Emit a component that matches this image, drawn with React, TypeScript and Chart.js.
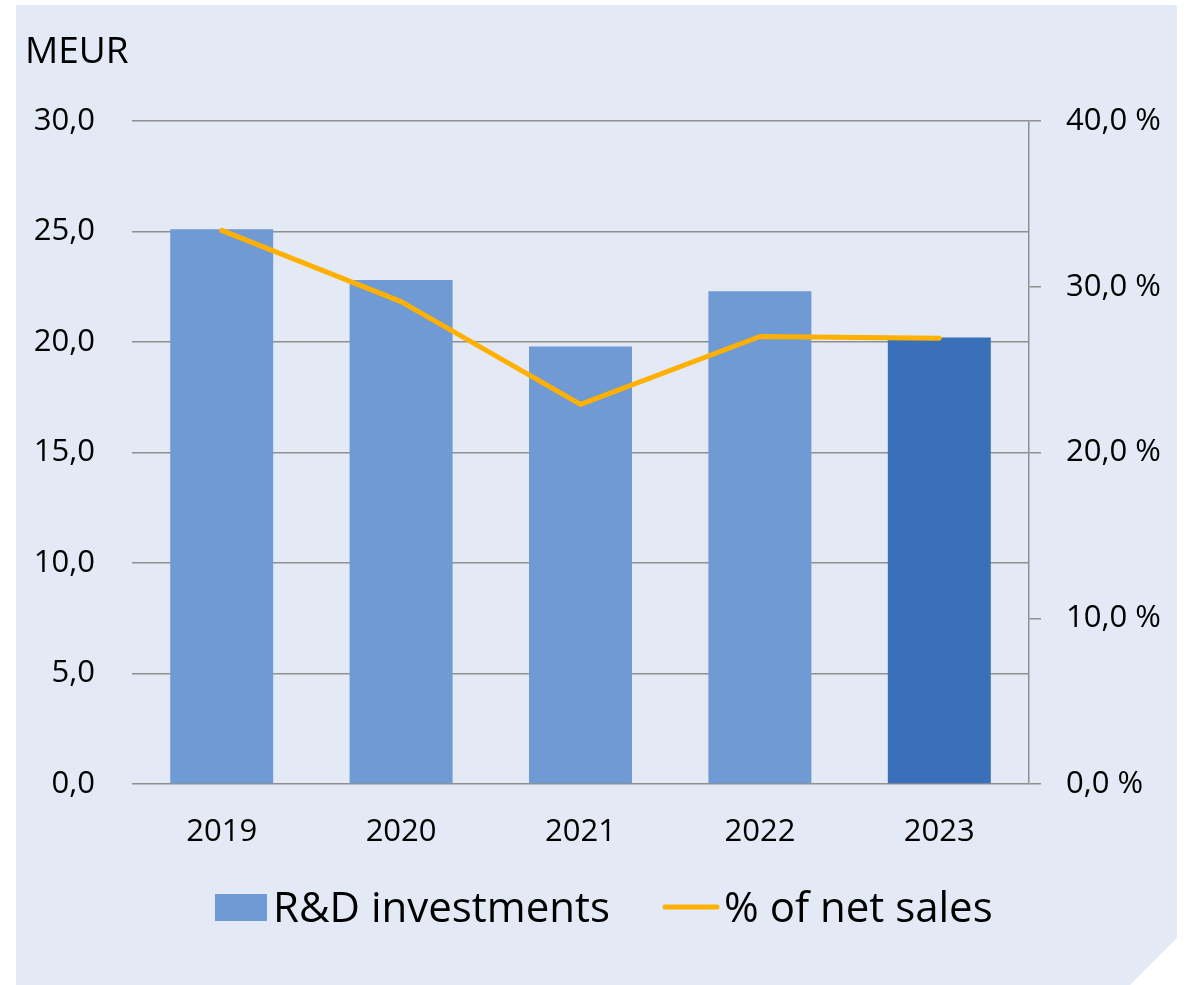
import React, { useEffect, useRef } from "react";
import { Chart, registerables } from "chart.js";

Chart.register(...registerables);

const years = ["2019", "2020", "2021", "2022", "2023"];
const rdInvestments = [25.1, 22.8, 19.8, 22.3, 20.2];
const pctOfNetSales = [33.4, 29.1, 22.9, 27.0, 26.9];
const barColors = ["#6F9AD3", "#6F9AD3", "#6F9AD3", "#6F9AD3", "#3A70B9"];
const seriesNames = ["R&D investments", "% of net sales"];
const unitLabel = "MEUR";

const FONT = "'Open Sans', 'Noto Sans', sans-serif";
const fmt = (v: number) => v.toFixed(1).replace(".", ",");

const decorPlugin = {
  id: "decor",
  beforeDraw(chart: any) {
    const ctx = chart.ctx;
    ctx.save();
    ctx.fillStyle = "#E3EAF5";
    ctx.beginPath();
    ctx.moveTo(16, 5);
    ctx.lineTo(1177, 5);
    ctx.lineTo(1177, 938);
    ctx.lineTo(1130, 985);
    ctx.lineTo(16, 985);
    ctx.closePath();
    ctx.fill();
    ctx.restore();
  },
  afterDraw(chart: any) {
    const ctx = chart.ctx;
    ctx.save();
    ctx.fillStyle = "#000";
    ctx.textBaseline = "alphabetic";
    ctx.textAlign = "left";
    ctx.font = `37px ${FONT}`;
    ctx.fillText(unitLabel, 25, 63);
    // legend
    ctx.fillStyle = barColors[0];
    ctx.fillRect(215, 894, 52, 27);
    ctx.strokeStyle = "#FFB000";
    ctx.lineWidth = 5;
    ctx.lineCap = "round";
    ctx.beginPath();
    ctx.moveTo(665, 907);
    ctx.lineTo(717, 907);
    ctx.stroke();
    ctx.fillStyle = "#000";
    ctx.font = `42px ${FONT}`;
    ctx.fillText(seriesNames[0], 273, 922);
    ctx.fillText(seriesNames[1], 724, 922);
    ctx.restore();
  },
};

export default function App() {
  const ref = useRef<HTMLCanvasElement>(null);
  useEffect(() => {
    const chart = new Chart(ref.current!, {
      type: "bar",
      data: {
        labels: years,
        datasets: [
          {
            type: "line",
            label: seriesNames[1],
            data: pctOfNetSales,
            yAxisID: "y1",
            borderColor: "#FFB000",
            borderWidth: 5,
            pointRadius: 0,
            tension: 0,
            borderCapStyle: "round",
            borderJoinStyle: "round",
            order: 0,
          } as any,
          {
            type: "bar",
            label: seriesNames[0],
            data: rdInvestments,
            yAxisID: "y",
            backgroundColor: barColors,
            barPercentage: 0.574,
            categoryPercentage: 1,
            order: 1,
          },
        ],
      },
      options: {
        responsive: false,
        animation: false,
        layout: { padding: { top: 121, left: 0, right: 0, bottom: 0 } },
        plugins: { legend: { display: false }, tooltip: { enabled: false } },
        scales: {
          x: {
            grid: { display: false, drawTicks: false },
            border: { display: false },
            ticks: { color: "#000", font: { family: FONT, size: 31 }, padding: 30, maxRotation: 0 },
            afterFit: (s: any) => { s.height = 201; },
          },
          y: {
            position: "left",
            min: 0,
            max: 30,
            ticks: { stepSize: 5, color: "#000", font: { family: FONT, size: 31 }, padding: 37, callback: (v: any) => fmt(Number(v)) },
            grid: { color: "#8F8F8F", lineWidth: 1.5, drawTicks: false },
            border: { display: false },
            afterFit: (s: any) => { s.width = 132; },
          },
          y1: {
            position: "right",
            min: 0,
            max: 40,
            ticks: { stepSize: 10, color: "#000", font: { family: FONT, size: 31 }, padding: 25, callback: (v: any) => fmt(Number(v)) + " %" },
            grid: { color: "#8F8F8F", lineWidth: 1.5, drawOnChartArea: false, drawTicks: true, tickLength: 12 },
            border: { display: true, color: "#8F8F8F", width: 1.5 },
            afterFit: (s: any) => { s.width = 157; },
          },
        },
      },
      plugins: [decorPlugin],
    });
    return () => chart.destroy();
  }, []);
  return (
    <div style={{ position: "absolute", left: 0, top: 0, width: 1186, height: 985, background: "#fff" }}>
      <canvas ref={ref} width={1186} height={985} style={{ display: "block" }} />
    </div>
  );
}
